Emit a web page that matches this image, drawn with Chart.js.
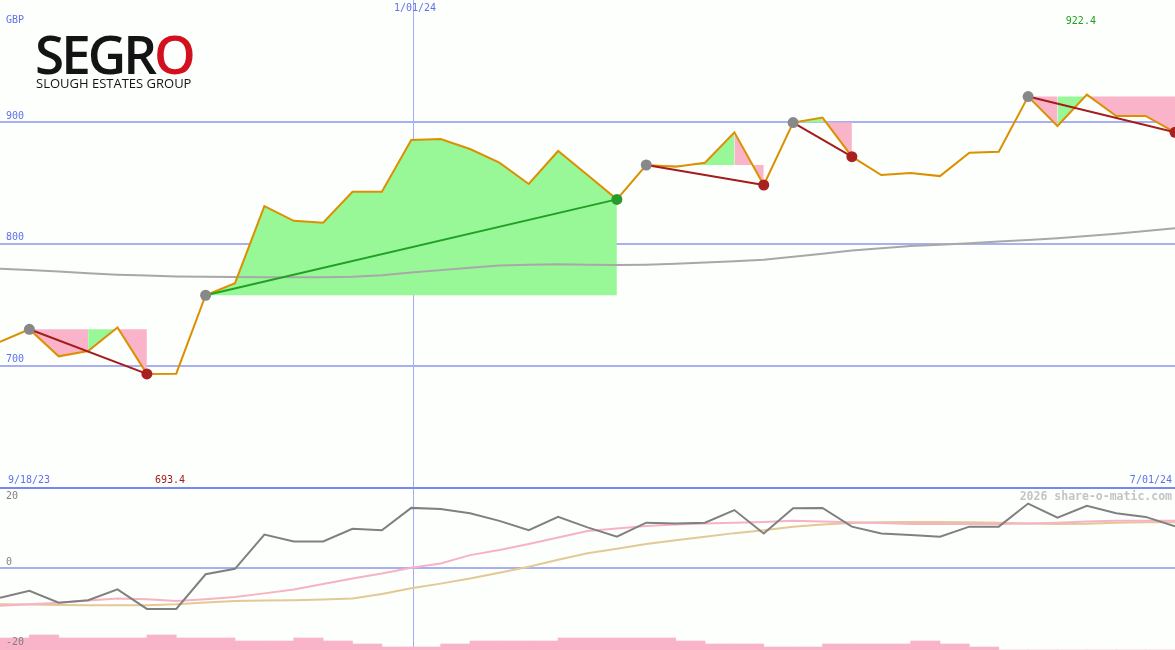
<!DOCTYPE html>
<html>
<head>
<meta charset="utf-8">
<script src="https://cdn.jsdelivr.net/npm/chart.js@4.4.1/dist/chart.umd.min.js"></script>
<style>
  body { margin: 0; background: #fcfffc; }
  #wrap { position: relative; width: 1175px; height: 650px; }
  #chart { position: absolute; left: 0; top: 0; }
  .logo { position: absolute; font-family: 'Open Sans', sans-serif; white-space: nowrap; color: #141414; }
  #logoBig { left: 35px; top: 27px; font-size: 53px; line-height: 54px; font-weight: 600; letter-spacing: -3px; }
  #logoBig span { color: #d2101e; }
  #logoSmall { left: 36px; top: 77px; font-size: 13px; line-height: 13px; letter-spacing: 0; }
</style>
</head>
<body>
<div id="wrap">
  <canvas id="chart" width="1175" height="650"></canvas>
  <div class="logo" id="logoBig">SEGR<span>O</span></div>
  <div class="logo" id="logoSmall">SLOUGH ESTATES GROUP</div>
</div>
<script>
// weekly closes, GBp
const price = [719.6, 730.0, 707.8, 712.2, 731.5, 693.4, 693.6, 757.9, 767.8, 831.0,
               818.9, 817.3, 842.8, 842.8, 885.2, 886.0, 877.8, 866.6, 849.1, 876.2,
               856.5, 836.5, 864.7, 863.3, 866.6, 891.5, 848.3, 899.5, 903.6, 871.5,
               856.5, 858.1, 855.6, 874.8, 875.6, 920.8, 896.7, 922.4, 904.9, 904.9, 891.5];
// long moving average
const average = [779.7, 778.5, 777.3, 776.0, 774.8, 774.0, 773.3, 773.0, 772.9, 772.7,
                 772.7, 772.7, 773.0, 774.3, 776.5, 778.5, 780.5, 782.2, 783.0, 783.4,
                 783.0, 782.6, 783.0, 783.8, 784.7, 785.8, 787.1, 789.5, 792.0, 794.5,
                 796.5, 798.2, 799.4, 800.6, 801.9, 803.1, 804.7, 806.4, 808.4, 810.5, 812.9];
// lower panel
const momentum = [-8.2, -6.3, -9.6, -8.9, -5.9, -11.3, -11.3, -1.7, -0.2, 9.3,
                  7.4, 7.4, 10.9, 10.5, 16.7, 16.4, 15.2, 13.1, 10.5, 14.2,
                  11.3, 8.7, 12.6, 12.4, 12.6, 16.1, 9.6, 16.6, 16.7, 11.5,
                  9.6, 9.2, 8.7, 11.5, 11.5, 17.9, 14.0, 17.3, 15.2, 14.2, 11.6];
const fastSignal = [-10.4, -10.0, -9.6, -9.0, -8.4, -8.6, -9.1, -8.6, -8.0, -7.0,
                    -5.9, -4.4, -2.9, -1.5, 0.1, 1.3, 3.6, 5.0, 6.7, 8.5,
                    10.3, 11.0, 11.7, 12.1, 12.4, 12.6, 12.8, 13.1, 12.9, 12.7,
                    12.5, 12.2, 12.2, 12.2, 12.2, 12.4, 12.6, 12.9, 13.1, 13.1, 13.1];
const slowSignal = [-10.0, -10.1, -10.2, -10.3, -10.3, -10.3, -10.0, -9.5, -9.1, -9.0,
                    -8.9, -8.7, -8.4, -7.2, -5.6, -4.3, -2.9, -1.3, 0.4, 2.3,
                    4.1, 5.4, 6.7, 7.7, 8.7, 9.7, 10.5, 11.5, 12.1, 12.5,
                    12.7, 12.8, 12.8, 12.7, 12.6, 12.4, 12.2, 12.3, 12.6, 12.7, 12.7];
const volume = [4, 5, 4, 4, 4, 5, 4, 4, 3, 3, 4, 3, 2, 1, 1, 2, 3, 3, 3, 4,
                4, 4, 4, 3, 2, 2, 1, 1, 2, 2, 2, 3, 2, 1, 0, 0, 0, 0, 0, 0];
// swing patterns: start week, end week, up/down per week
const patStart = [1, 7, 22, 27, 35];
const patEnd = [5, 21, 26, 29, 40];
const patMoves = ['ddud', 'uuuuuuuuuuuuuu', 'duud', 'ud', 'duddd'];

const priceTicks = [900, 800, 700];
const oscTicks = [20, 0, -20];
const currency = 'GBP';
const firstDate = '9/18/23';
const lastDate = '7/01/24';
const yearLabel = '1/01/24';
const yearWeek = 14.06;
const credit = '2026 share-o-matic.com';

const PINK = '#f9b4c9';
const GREEN = '#98f898';
const BLUE = '#6070f0';
const RED = '#a41c1c';
const DKGREEN = '#22a022';

const datasets = [];

datasets.push({
    type: 'bar', yAxisID: 'yv', order: 10,
    data: volume.map((v, i) => ({x: i + 0.5, y: v})),
    backgroundColor: PINK, borderWidth: 0,
    barPercentage: 1, categoryPercentage: 1
});

// fills between price and the pattern's start level, one per run of same direction
patStart.forEach((s, p) => {
    const moves = patMoves[p];
    let a = 0;
    while (a < moves.length) {
        let b = a;
        while (b + 1 < moves.length && moves[b + 1] === moves[a]) b++;
        const pts = [];
        for (let k = s + a; k <= s + b + 1; k++) pts.push({x: k, y: price[k]});
        datasets.push({
            type: 'line', yAxisID: 'y', order: 9,
            data: pts,
            fill: {value: price[s]},
            backgroundColor: moves[a] === 'u' ? GREEN : PINK,
            borderColor: 'rgba(0,0,0,0)', borderWidth: 0, pointRadius: 0
        });
        a = b + 1;
    }
});

function series(arr, axis, color, order) {
    return {
        type: 'line', yAxisID: axis, order: order,
        data: arr.map((v, i) => ({x: i, y: v})),
        borderColor: color, borderWidth: 2, pointRadius: 0, fill: false, tension: 0
    };
}

datasets.push(series(average, 'y', '#a8a8a8', 8));
datasets.push(series(slowSignal, 'yb', '#e2c996', 7));
datasets.push(series(fastSignal, 'yb', '#f7b2c6', 6));
datasets.push(series(momentum, 'yb', '#808080', 5));
datasets.push(series(price, 'y', '#dc9000', 4));

// connectors and markers
const markerPts = [];
const markerCols = [];
patStart.forEach((s, p) => {
    const e = patEnd[p];
    const up = price[e] > price[s];
    datasets.push({
        type: 'line', yAxisID: 'y', order: 3,
        data: [{x: s, y: price[s]}, {x: e, y: price[e]}],
        borderColor: up ? DKGREEN : RED, borderWidth: 2, pointRadius: 0, fill: false
    });
    markerPts.push({x: s, y: price[s]}, {x: e, y: price[e]});
    markerCols.push('#888888', up ? '#2a9a2a' : '#a82020');
});
datasets.push({
    type: 'line', yAxisID: 'y', order: 1, showLine: false,
    data: markerPts,
    pointRadius: 5.5, pointBorderWidth: 0,
    pointBackgroundColor: markerCols, borderColor: 'rgba(0,0,0,0)'
});

const panels = {
    id: 'panels',
    beforeDraw(chart) {
        const ctx = chart.ctx;
        ctx.save();
        ctx.fillStyle = '#fcfffc';
        ctx.fillRect(0, 0, chart.width, chart.height);
        ctx.restore();
    },
    beforeDatasetsDraw(chart) {
        const {ctx, scales: {x, y, yb}} = chart;
        const w = chart.width;
        ctx.save();
        ctx.strokeStyle = '#a8b0f2';
        ctx.lineWidth = 2;
        priceTicks.forEach(v => {
            const py = Math.round(y.getPixelForValue(v));
            ctx.beginPath(); ctx.moveTo(0, py); ctx.lineTo(w, py); ctx.stroke();
        });
        const z = Math.round(yb.getPixelForValue(0));
        ctx.beginPath(); ctx.moveTo(0, z); ctx.lineTo(w, z); ctx.stroke();

        ctx.strokeStyle = '#a4acf6';
        ctx.lineWidth = 1;
        const vx = Math.round(x.getPixelForValue(yearWeek)) + 0.5;
        ctx.beginPath(); ctx.moveTo(vx, 0); ctx.lineTo(vx, chart.height); ctx.stroke();
        ctx.restore();
    },
    afterDatasetsDraw(chart) {
        const {ctx, scales: {x, y, yb}} = chart;
        const w = chart.width;
        const split = Math.round(y.getPixelForValue(600));
        ctx.save();
        ctx.strokeStyle = '#7888ee';
        ctx.lineWidth = 2;
        ctx.beginPath(); ctx.moveTo(0, split); ctx.lineTo(w, split); ctx.stroke();

        ctx.font = '10px "DejaVu Sans Mono", monospace';
        ctx.textBaseline = 'middle';
        ctx.fillStyle = BLUE;
        ctx.textAlign = 'left';
        ctx.fillText(currency, 6, 20);
        priceTicks.forEach(v => ctx.fillText(String(v), 6, y.getPixelForValue(v) - 6));
        ctx.fillText(firstDate, 8, split - 8);
        ctx.textAlign = 'right';
        ctx.fillText(lastDate, w - 3, split - 8);
        ctx.textAlign = 'center';
        ctx.fillText(yearLabel, x.getPixelForValue(yearWeek) + 2, 8);

        const hi = Math.max(...price), lo = Math.min(...price);
        ctx.fillStyle = DKGREEN;
        ctx.fillText(hi.toFixed(1), x.getPixelForValue(price.indexOf(hi)) - 6, 21);
        ctx.fillStyle = RED;
        ctx.textAlign = 'left';
        ctx.fillText(lo.toFixed(1), x.getPixelForValue(price.indexOf(lo)) + 8, split - 8);

        ctx.fillStyle = '#808080';
        const offs = [0, -6, 2];
        oscTicks.forEach((v, i) => ctx.fillText(String(v), 6, yb.getPixelForValue(v) + offs[i]));

        ctx.font = 'bold 11.5px "DejaVu Sans Mono", monospace';
        ctx.fillStyle = '#c4c4c4';
        ctx.textAlign = 'right';
        ctx.fillText(credit, w - 3, split + 9);
        ctx.restore();
    }
};

new Chart(document.getElementById('chart'), {
    data: {datasets: datasets},
    options: {
        responsive: false,
        animation: false,
        events: [],
        layout: {padding: 0, autoPadding: false},
        plugins: {legend: {display: false}, tooltip: {enabled: false}},
        scales: {
            x: {type: 'linear', min: 0, max: 40, offset: false, display: false},
            y: {min: 467, max: 1000, display: false},
            yb: {min: -22.7, max: 157.5, display: false},
            yv: {min: 0, max: 216.7, display: false}
        }
    },
    plugins: [panels]
});
</script>
</body>
</html>
